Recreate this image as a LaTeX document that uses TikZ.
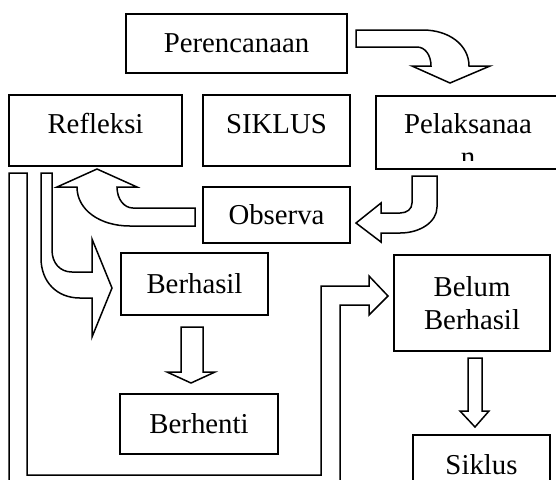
\documentclass[tikz,border=0pt]{standalone}
\usepackage{fontspec}
\setmainfont{Liberation Serif}

\begin{document}
\begin{tikzpicture}[x=0.5pt, y=-0.5pt]
    \useasboundingbox (0,0) rectangle (556,479);
    \clip (0,0) rectangle (556,479);
    \tikzset{kotak/.style = {draw, line width=0.75pt, fill=white, inner sep=0pt, align=center, font=\fontsize{14.4pt}{16.5pt}\selectfont},
             panah/.style = {draw, line width=0.75pt, fill=white, line join=miter}}

    % kotak
    \node [kotak, minimum width=110.5pt, minimum height=29.5pt] (perencanaan) at (236.5,43.5) {Perencanaan};
    \node [kotak, minimum width=86.5pt, minimum height=35.5pt, text depth=7pt] (refleksi) at (95.5,130.5) {Refleksi};
    \node [kotak, minimum width=73.5pt, minimum height=35.5pt, text depth=7pt] (siklus) at (276.5,130.5) {SIKLUS};
    \node [kotak, minimum width=92pt, minimum height=36.5pt] (pelaksanaan) at (468,132.5) {};
    \begin{scope}
      \clip (376,96) rectangle (556,160);
      \node [kotak, draw=none, fill=none] (tekspel) at (468,139.7) {Pelaksanaa\\n};
    \end{scope}
    \node [kotak, minimum width=73.5pt, minimum height=28pt] (observa) at (276.5,215) {Observa};
    \node [kotak, minimum width=73.5pt, minimum height=31pt] (berhasil) at (194.5,284) {Berhasil};
    \node [kotak, minimum width=79pt, minimum height=30pt] (berhenti) at (199,424) {Berhenti};
    \node [kotak, minimum width=78pt, minimum height=48pt] (belum) at (472,303) {Belum\\Berhasil};
    \node [kotak, minimum width=68.5pt, minimum height=29.5pt] (siklus2) at (481.5,464.5) {Siklus};

    % panah lengkung
    \draw [panah] (356,30) -- (423,30) .. controls (449,30) and (469,45) .. (469,66) -- (490,66) -- (450,83)
                  -- (412,66) -- (431,66) .. controls (431,55) and (425,47) .. (417,47) -- (356,47) -- cycle;
    \draw [panah] (412,176) -- (412,203) .. controls (412,209) and (407,213) .. (400,213) -- (381,213) -- (381,203)
                  -- (356,223) -- (381,242) -- (381,233) -- (400,233) .. controls (420,233) and (437,222) .. (437,207) -- (437,176) -- cycle;
    \draw [panah] (195,208) -- (133,208) .. controls (124,208) and (117,199) .. (117,187) -- (137,187) -- (97,169)
                  -- (57,187) -- (77,187) .. controls (77,210) and (100,226) .. (130,226) -- (195,226) -- cycle;
    \draw [panah] (41,173) -- (52,173) -- (52,250) .. controls (52,263) and (60,272) .. (72,272) -- (92,272) -- (92,239)
                  -- (112,288) -- (92,337) -- (92,298) -- (80,298) .. controls (57,298) and (41,282) .. (41,258) -- cycle;

    % jalur bawah
    \draw [panah, fill=none] (9,490) -- (9,173) -- (27,173) -- (27,475) -- (321,475) -- (321,286) -- (369,286) -- (369,276)
                  -- (388,296) -- (369,315) -- (369,305) -- (340,305) -- (340,490);

    % panah lurus
    \draw [panah] (181,327) -- (203,327) -- (203,372) -- (215,372) -- (191,383) -- (167,372) -- (181,372) -- cycle;
    \draw [panah] (468,358) -- (482,358) -- (482,411) -- (489,411) -- (475,427) -- (460,411) -- (468,411) -- cycle;
\end{tikzpicture}
\end{document}
